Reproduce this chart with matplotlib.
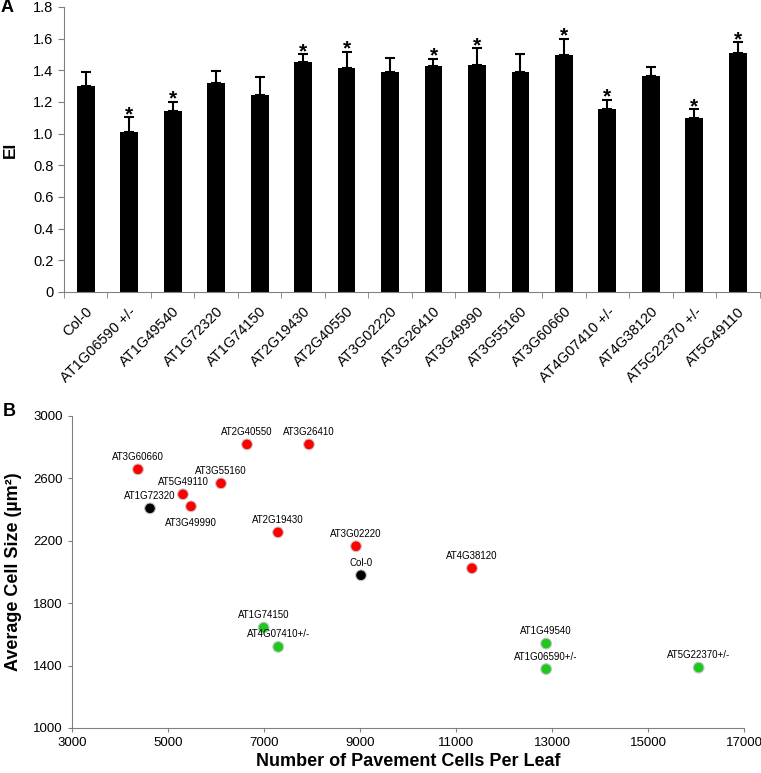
import matplotlib.pyplot as plt
import numpy as np

plt.rcParams["font.family"] = ["Liberation Sans", "DejaVu Sans"]

# panel A data
lines = ["Col-0", "AT1G06590 +/-", "AT1G49540", "AT1G72320", "AT1G74150", "AT2G19430",
         "AT2G40550", "AT3G02220", "AT3G26410", "AT3G49990", "AT3G55160", "AT3G60660",
         "AT4G07410 +/-", "AT4G38120", "AT5G22370 +/-", "AT5G49110"]
ei = [1.30, 1.01, 1.14, 1.32, 1.245, 1.45, 1.413, 1.389, 1.427, 1.436, 1.389, 1.497,
      1.154, 1.366, 1.101, 1.512]
ei_err = [0.09, 0.093, 0.063, 0.078, 0.11, 0.053, 0.105, 0.091, 0.045, 0.105, 0.114, 0.103,
          0.061, 0.053, 0.053, 0.067]
signif = [False, True, True, False, False, True, True, False, True, True, False, True,
          True, False, True, True]

# panel B data
pts_names = ["AT3G60660", "AT2G40550", "AT3G26410", "AT3G55160", "AT5G49110", "AT1G72320",
             "AT3G49990", "AT2G19430", "AT3G02220", "Col-0", "AT4G38120", "AT1G74150",
             "AT4G07410+/-", "AT1G49540", "AT1G06590+/-", "AT5G22370+/-"]
cell_num = [4375, 6646, 7937, 6104, 5312, 4625, 5479, 7292, 8917, 9021, 11333, 6992,
            7297, 12878, 12878, 16055]
cell_size = [2658, 2818, 2818, 2568, 2498, 2408, 2421, 2254, 2165, 1979, 2024, 1643,
             1520, 1541, 1378, 1387]
groups = ["up", "up", "up", "up", "up", "wt", "up", "up", "up", "wt", "up", "down",
          "down", "down", "down", "down"]
group_colors = {"up": "#ff0000", "wt": "#000000", "down": "#1ec81e"}

fig = plt.figure(figsize=(7.61, 7.73), dpi=100)

# ---- panel A ----
axA = fig.add_axes([64 / 761, 1 - 292 / 773, 695.5 / 761, 285 / 773])
x = np.arange(len(lines))
axA.bar(x, ei, width=0.41, color="black", zorder=2)
axA.errorbar(x, ei, yerr=[np.zeros(len(ei)), ei_err], fmt="none", ecolor="black",
             elinewidth=1.5, capsize=3.6, capthick=1.5, zorder=3)
for xi, v, e, s in zip(x, ei, ei_err, signif):
    if s:
        axA.annotate("*", (xi, v + e), xytext=(0, -5), textcoords="offset points",
                     ha="center", va="bottom", fontsize=15, fontweight="bold")
axA.set_xlim(-0.5, 15.5)
axA.set_ylim(0, 1.8)
axA.set_yticks(np.arange(0, 1.81, 0.2))
axA.set_yticklabels(["0"] + [f"{v:.1f}" for v in np.arange(0.2, 1.81, 0.2)], fontsize=10.5)
axA.set_xticks(x)
axA.set_xticklabels(lines, rotation=45, ha="right", rotation_mode="anchor", fontsize=10.5)
axA.tick_params(axis="x", length=0, pad=9)
axA.set_xticks(np.arange(-0.5, 15.6, 1), minor=True)
axA.tick_params(axis="x", which="minor", length=4, color="#808080")
axA.tick_params(axis="y", length=4, color="#808080")
for sp in ["top", "right"]:
    axA.spines[sp].set_visible(False)
axA.spines["left"].set_color("#808080")
axA.spines["bottom"].set_color("#808080")
axA.set_ylabel("EI", fontsize=12.5, fontweight="bold", labelpad=11)
fig.text(1 / 761, 1 - 8 / 773, "A", fontsize=13, fontweight="bold", va="center", ha="left")

# ---- panel B ----
axB = fig.add_axes([72 / 761, 1 - 728 / 773, 672 / 761, 312 / 773])
axB.scatter(cell_num, cell_size, s=60, c=[group_colors[g] for g in groups],
            edgecolors="#c8c8c8", linewidths=0.8, zorder=3)
for name, xv, yv in zip(pts_names, cell_num, cell_size):
    dy = -12 if name == "AT3G49990" else 9
    axB.annotate(name, (xv, yv), xytext=(0, dy), textcoords="offset points",
                 ha="center", va="center", fontsize=7)
axB.set_xlim(3000, 17000)
axB.set_ylim(1000, 3000)
axB.set_xticks(np.arange(3000, 17001, 2000))
axB.set_yticks(np.arange(1000, 3001, 400))
axB.tick_params(labelsize=9.5, length=3, color="#808080")
for sp in ["top", "right"]:
    axB.spines[sp].set_visible(False)
axB.spines["left"].set_color("#808080")
axB.spines["bottom"].set_color("#808080")
axB.set_xlabel("Number of Pavement Cells Per Leaf", fontsize=13, fontweight="bold", labelpad=3)
axB.set_ylabel("Average Cell Size (\u00b5m\u00b2)", fontsize=13, fontweight="bold", labelpad=8)
fig.text(3 / 761, 1 - 412 / 773, "B", fontsize=13, fontweight="bold", va="center", ha="left")

fig.savefig("out.png", dpi=100)
